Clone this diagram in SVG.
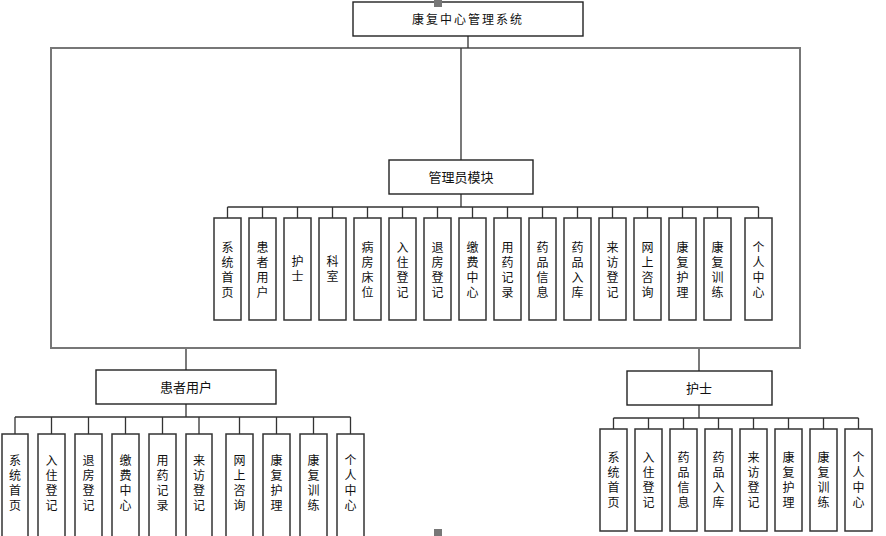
<svg xmlns="http://www.w3.org/2000/svg" width="886" height="536" viewBox="0 0 886 536">
<style>
.bg{fill:#fff}
.box{fill:#fff;stroke:#222;stroke-width:1.4}
.leaf{fill:#fff;stroke:#333;stroke-width:1.5}
.t{font-family:"Noto Sans CJK SC","Noto Sans",sans-serif;font-size:12px;fill:#111;text-anchor:middle}
.v{font-family:"Noto Sans CJK SC","Noto Sans",sans-serif;font-size:12px;fill:#111;text-anchor:middle;writing-mode:vertical-rl;text-orientation:upright;letter-spacing:3px}
.tb{font-family:"Noto Sans CJK SC","Noto Sans",sans-serif;font-size:13px;fill:#111;text-anchor:middle}
.c{fill:none;stroke:#333;stroke-width:1.3}
.frame{fill:none;stroke:#777;stroke-width:2}
.h{fill:#777}
</style>
<rect class="bg" x="0" y="0" width="886" height="536"/>
<g id="connectors">
  <rect class="frame" x="51" y="48" width="749" height="300"/>
  <path class="c" d="M468 36V48M461 48V160"/>
  <path class="c" d="M461 194V207M227.5 207H758.5M227.5 207V218M262.5 207V218M297.5 207V218M332.5 207V218M367.5 207V218M402.5 207V218M437.5 207V218M472.5 207V218M507.5 207V218M542.5 207V218M577.5 207V218M612.5 207V218M647.5 207V218M682.5 207V218M717.5 207V218M758.5 207V218"/>
  <path class="c" d="M186 349V370M186 404V417M15 417H350.5M15 417V434M51.5 417V434M88.5 417V434M125.5 417V434M162.5 417V434M199 417V434M239.5 417V434M276.5 417V434M313.5 417V434M350.5 417V434"/>
  <path class="c" d="M699 349V371M699 405V418M613.5 418H858.5M613.5 418V429M648.5 418V429M683.5 418V429M718.5 418V429M753.5 418V429M788.5 418V429M823.5 418V429M858.5 418V429"/>
</g>
<g id="root"><rect class="box" x="353" y="2" width="230" height="34"/><text class="t" x="468" y="23.5" letter-spacing="2">康复中心管理系统</text></g>
<g id="admin"><rect class="box" x="389" y="160" width="144" height="34"/><text class="tb" x="461" y="181.5">管理员模块</text></g>
<g id="a1"><rect class="leaf" x="214" y="218" width="27" height="102"/><text class="v" x="227.5" y="271">系统首页</text></g>
<g id="a2"><rect class="leaf" x="249" y="218" width="27" height="102"/><text class="v" x="262.5" y="271">患者用户</text></g>
<g id="a3"><rect class="leaf" x="284" y="218" width="27" height="102"/><text class="v" x="297.5" y="270.5">护士</text></g>
<g id="a4"><rect class="leaf" x="319" y="218" width="27" height="102"/><text class="v" x="332.5" y="270.5">科室</text></g>
<g id="a5"><rect class="leaf" x="354" y="218" width="27" height="102"/><text class="v" x="367.5" y="271">病房床位</text></g>
<g id="a6"><rect class="leaf" x="389" y="218" width="27" height="102"/><text class="v" x="402.5" y="271">入住登记</text></g>
<g id="a7"><rect class="leaf" x="424" y="218" width="27" height="102"/><text class="v" x="437.5" y="271">退房登记</text></g>
<g id="a8"><rect class="leaf" x="459" y="218" width="27" height="102"/><text class="v" x="472.5" y="271">缴费中心</text></g>
<g id="a9"><rect class="leaf" x="494" y="218" width="27" height="102"/><text class="v" x="507.5" y="271">用药记录</text></g>
<g id="a10"><rect class="leaf" x="529" y="218" width="27" height="102"/><text class="v" x="542.5" y="271">药品信息</text></g>
<g id="a11"><rect class="leaf" x="564" y="218" width="27" height="102"/><text class="v" x="577.5" y="271">药品入库</text></g>
<g id="a12"><rect class="leaf" x="599" y="218" width="27" height="102"/><text class="v" x="612.5" y="271">来访登记</text></g>
<g id="a13"><rect class="leaf" x="634" y="218" width="27" height="102"/><text class="v" x="647.5" y="271">网上咨询</text></g>
<g id="a14"><rect class="leaf" x="669" y="218" width="27" height="102"/><text class="v" x="682.5" y="271">康复护理</text></g>
<g id="a15"><rect class="leaf" x="704" y="218" width="27" height="102"/><text class="v" x="717.5" y="271">康复训练</text></g>
<g id="a16"><rect class="leaf" x="745" y="218" width="27" height="102"/><text class="v" x="758.5" y="271">个人中心</text></g>
<g id="patient"><rect class="box" x="96" y="370" width="180" height="34"/><text class="tb" x="186" y="391.5">患者用户</text></g>
<g id="p1"><rect class="leaf" x="2" y="434" width="26" height="106"/><text class="v" x="15" y="484.5">系统首页</text></g>
<g id="p2"><rect class="leaf" x="38" y="434" width="27" height="106"/><text class="v" x="51.5" y="484.5">入住登记</text></g>
<g id="p3"><rect class="leaf" x="75" y="434" width="27" height="106"/><text class="v" x="88.5" y="484.5">退房登记</text></g>
<g id="p4"><rect class="leaf" x="112" y="434" width="27" height="106"/><text class="v" x="125.5" y="484.5">缴费中心</text></g>
<g id="p5"><rect class="leaf" x="149" y="434" width="27" height="106"/><text class="v" x="162.5" y="484.5">用药记录</text></g>
<g id="p6"><rect class="leaf" x="186" y="434" width="26" height="106"/><text class="v" x="199" y="484.5">来访登记</text></g>
<g id="p7"><rect class="leaf" x="226" y="434" width="27" height="106"/><text class="v" x="239.5" y="484.5">网上咨询</text></g>
<g id="p8"><rect class="leaf" x="263" y="434" width="27" height="106"/><text class="v" x="276.5" y="484.5">康复护理</text></g>
<g id="p9"><rect class="leaf" x="300" y="434" width="27" height="106"/><text class="v" x="313.5" y="484.5">康复训练</text></g>
<g id="p10"><rect class="leaf" x="337" y="434" width="27" height="106"/><text class="v" x="350.5" y="484.5">个人中心</text></g>
<g id="nurse"><rect class="box" x="627" y="371" width="145" height="34"/><text class="tb" x="699" y="392.5">护士</text></g>
<g id="n1"><rect class="leaf" x="600" y="429" width="27" height="102"/><text class="v" x="613.5" y="481">系统首页</text></g>
<g id="n2"><rect class="leaf" x="635" y="429" width="27" height="102"/><text class="v" x="648.5" y="481">入住登记</text></g>
<g id="n3"><rect class="leaf" x="670" y="429" width="27" height="102"/><text class="v" x="683.5" y="481">药品信息</text></g>
<g id="n4"><rect class="leaf" x="705" y="429" width="27" height="102"/><text class="v" x="718.5" y="481">药品入库</text></g>
<g id="n5"><rect class="leaf" x="740" y="429" width="27" height="102"/><text class="v" x="753.5" y="481">来访登记</text></g>
<g id="n6"><rect class="leaf" x="775" y="429" width="27" height="102"/><text class="v" x="788.5" y="481">康复护理</text></g>
<g id="n7"><rect class="leaf" x="810" y="429" width="27" height="102"/><text class="v" x="823.5" y="481">康复训练</text></g>
<g id="n8"><rect class="leaf" x="845" y="429" width="27" height="102"/><text class="v" x="858.5" y="481">个人中心</text></g>
<rect class="h" x="434" y="0" width="8" height="7"/>
<rect class="h" x="434" y="529" width="8" height="7"/>
</svg>
